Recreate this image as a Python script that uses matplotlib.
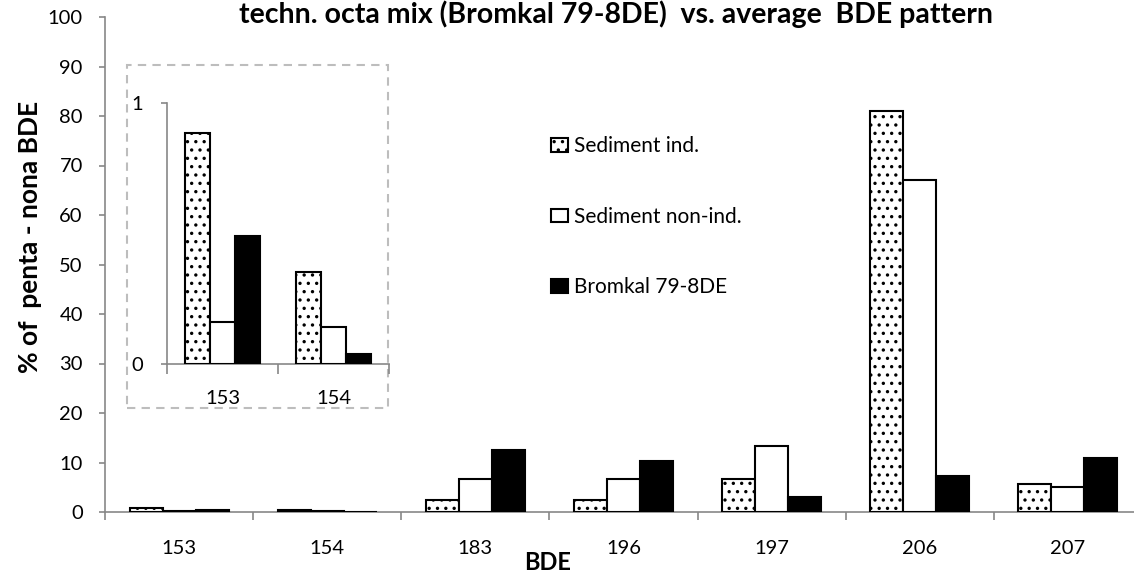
import matplotlib
matplotlib.use("Agg")
import matplotlib.pyplot as plt
import numpy as np
from matplotlib.patches import Rectangle

plt.rcParams["font.family"] = ["Lato", "DejaVu Sans"]
plt.rcParams["hatch.linewidth"] = 1.2

# ---------------------------------------------------------------------------
# Data
# ---------------------------------------------------------------------------
congeners = ["153", "154", "183", "196", "197", "206", "207"]
sed_ind = [0.885, 0.353, 2.5, 2.5, 6.6, 81.1, 5.6]
sed_nonind = [0.16, 0.143, 6.7, 6.6, 13.4, 67.0, 5.0]
bromkal = [0.49, 0.038, 12.5, 10.4, 3.1, 7.3, 10.9]

inset_n = 2  # first two congeners go into the zoomed inset

series = [
    ("Sediment ind.", sed_ind, dict(facecolor="white", hatch="..")),
    ("Sediment non-ind.", sed_nonind, dict(facecolor="white")),
    ("Bromkal 79-8DE", bromkal, dict(facecolor="black")),
]

GREY = "#878787"
W, H = 1134, 575
FS = 14.5


def style_axes(ax):
    for side in ("top", "right"):
        ax.spines[side].set_visible(False)
    for side in ("left", "bottom"):
        ax.spines[side].set_color(GREY)
        ax.spines[side].set_linewidth(1.2)


def draw_bars(ax, cats, n):
    x = np.arange(n)
    bw = 0.2227
    for i, (label, vals, kw) in enumerate(series):
        ax.bar(x + (i - 1) * bw, vals[:n], bw, edgecolor="black",
               linewidth=1.5, label=label, zorder=3, **kw)
    ax.set_xlim(-0.5, n - 0.5)
    ax.set_xticks(np.arange(-0.5, n, 1.0))
    ax.set_xticklabels([])
    ax.set_xticks(x, minor=True)
    ax.set_xticklabels(cats[:n], minor=True)


fig = plt.figure(figsize=(W / 100, H / 100), dpi=100)

# main axes
ax = fig.add_axes([105 / W, 1 - 512 / H, (1142 - 105) / W, (512 - 17) / H])
draw_bars(ax, congeners, len(congeners))
style_axes(ax)
ax.set_ylim(0, 100)
ax.set_yticks(np.arange(0, 101, 10))
ax.tick_params(axis="y", which="major", length=4, width=1.2, color=GREY,
               pad=12, labelsize=FS)
ax.tick_params(axis="x", which="major", length=6, width=1.2, color=GREY)
ax.tick_params(axis="x", which="minor", length=0, pad=20, labelsize=FS)

ax.legend(loc="upper left", bbox_to_anchor=(541 / W, 1 - 126 / H),
          bbox_transform=fig.transFigure, frameon=False, fontsize=15,
          handlelength=0.8, handleheight=0.6, handletextpad=0.3,
          labelspacing=2.42, borderpad=0)

fig.text(616 / W, 1 - 23 / H,
         "techn. octa mix (Bromkal 79-8DE)  vs. average  BDE pattern",
         ha="center", va="baseline", fontsize=20.5, fontweight="bold")
fig.text(30 / W, 1 - 237 / H, "% of  penta - nona BDE", rotation=90,
         ha="center", va="center", fontsize=19, fontweight="bold")
fig.text(548 / W, 1 - 563 / H, "BDE", ha="center", va="center",
         fontsize=17, fontweight="bold")

# dashed frame around the inset
fig.patches.append(Rectangle((127 / W, 1 - 408 / H), 261 / W, 343 / H,
                             transform=fig.transFigure, facecolor="white",
                             edgecolor="#BDBDBD", linestyle=(0, (4, 3)),
                             linewidth=1.5, zorder=1))

# inset: 153 / 154 on a 0-1 scale
axi = fig.add_axes([167 / W, 1 - 364 / H, (389 - 167) / W, (364 - 103) / H])
axi.set_zorder(2)
draw_bars(axi, congeners, inset_n)
style_axes(axi)
axi.set_ylim(0, 1)
axi.set_yticks([0, 1])
axi.patch.set_alpha(0)
axi.tick_params(axis="y", which="major", length=4, width=1.2, color=GREY,
                pad=13, labelsize=FS)
axi.tick_params(axis="x", which="major", length=7, width=1.2, color=GREY)
axi.tick_params(axis="x", which="minor", length=0, pad=19, labelsize=FS)

fig.savefig("out.png", dpi=100)
